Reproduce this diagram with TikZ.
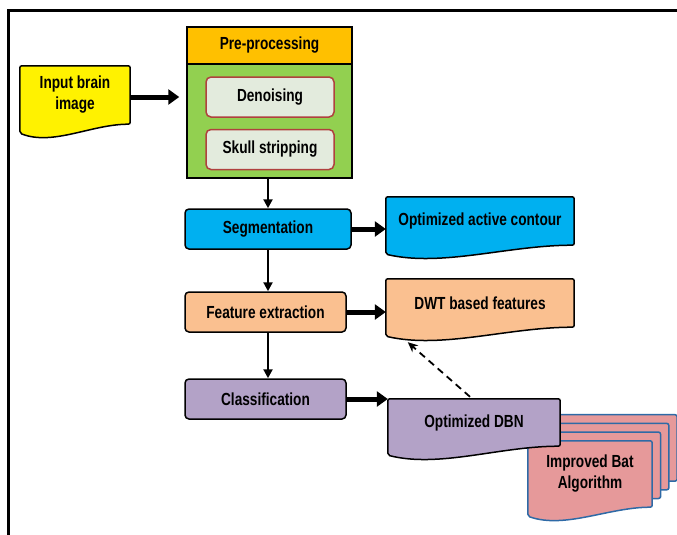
\documentclass[tikz,border=0pt]{standalone}
\usepackage{fontspec}
\setmainfont{Liberation Sans}[FakeStretch=0.78]
\usepackage{tikz}
\usetikzlibrary{arrows.meta,calc,positioning}
\pgfdeclarelayer{background}
\pgfsetlayers{background,main}
\tikzset{>={Triangle[length=9pt,width=9pt]}}
\definecolor{preorange}{HTML}{FFC000}
\definecolor{pregreen}{HTML}{92D050}
\definecolor{stepgray}{HTML}{E3EBDD}
\definecolor{stepred}{HTML}{B0413E}
\definecolor{segblue}{HTML}{00B0F0}
\definecolor{featpeach}{HTML}{FAC090}
\definecolor{clslilac}{HTML}{B3A2C7}
\definecolor{batpink}{HTML}{E6999A}
\definecolor{batblue}{HTML}{2E6AA6}
% document shape with a wavy bottom, drawn round a node
\newcommand{\wavybox}[3][black]{%
  \draw[line width=1.5pt, draw=#1, fill=#3, rounded corners=2pt]
    (#2.south east) -- (#2.north east) -- (#2.north west) -- ([yshift=-9pt]#2.south west)
    .. controls ($(#2.south west)!0.3!(#2.south east)+(0pt,-22pt)$)
    and ($(#2.south west)!0.65!(#2.south east)$) .. (#2.south east) -- cycle;}

\begin{document}
\begin{tikzpicture}[x=1pt,y=-1pt,
              font=\fontsize{17.5}{21}\selectfont\bfseries,
              box/.style={draw, line width=1.5pt, inner sep=0pt, align=center},
              wavy/.style={inner sep=0pt, align=center},
              step box/.style={box, rounded corners=5pt, fill=stepgray, draw=stepred,
                               minimum width=128pt, minimum height=40pt},
              stage/.style={box, rounded corners=4pt, minimum height=40pt},
              flow/.style={line width=2.2pt, ->},
              bigflow/.style={line width=5pt, -{Triangle[length=11pt,width=15pt]}},
             ]
\useasboundingbox (0,0) rectangle (677,535);
\draw[line width=3pt] (677,11) -- (8,11) -- (8,535);

% input and pre-processing
\node[wavy, minimum width=110pt, minimum height=58pt] (input) at (75,95) {Input brain\\image};
\node[box, fill=preorange, minimum width=165pt, minimum height=37pt] (prehead) at (269.5,45.5) {Pre-processing};
\node[box, fill=pregreen, minimum width=165pt, minimum height=114pt] (prebody) at (269.5,121) {};
\node[step box] (denoise) at (270,97) {Denoising};
\node[step box] (skull) at (270,149.5) {Skull stripping};

% main stages
\node[stage, fill=segblue, minimum width=166pt] (seg) at (268,229) {Segmentation};
\node[stage, fill=featpeach, minimum width=161pt] (feat) at (265.5,312) {Feature extraction};
\node[stage, fill=clslilac, minimum width=161pt] (cls) at (265.5,399) {Classification};

% methods
\node[wavy, minimum width=188pt, minimum height=48pt] (contour) at (480,221) {Optimized active contour};
\node[wavy, minimum width=188pt, minimum height=48pt] (dwt) at (480,303) {DWT based features};
\node[wavy, minimum width=124pt, minimum height=66pt] (bat1) at (590,474) {Improved Bat\\Algorithm};
\node[wavy, minimum width=124pt, minimum height=66pt] (bat2) at (598.3,465.3) {};
\node[wavy, minimum width=124pt, minimum height=66pt] (bat3) at (606.6,456.6) {};
\node[wavy, minimum width=124pt, minimum height=66pt] (bat4) at (614.9,447.9) {};
\node[wavy, minimum width=172pt, minimum height=47pt] (dbn) at (474,422.5) {Optimized DBN};

\begin{pgfonlayer}{background}
\wavybox{input}{yellow}
\foreach \s in {bat4,bat3,bat2,bat1}
  \wavybox[batblue]{\s}{batpink};
\wavybox{dbn}{clslilac}
\wavybox{contour}{segblue}
\wavybox{dwt}{featpeach}
\end{pgfonlayer}

% connectors
\draw[bigflow, shorten >=7pt] ([yshift=-2pt]input.east) -- ([yshift=-2pt]input.east -| prebody.west);
\draw[flow] (seg.north |- prebody.south) -- (seg.north);
\draw[flow] (seg.south) -- (seg.south |- feat.north);
\draw[flow] (seg.south |- feat.south) -- (seg.south |- cls.north);
\draw[bigflow] (seg.east) -- (seg.east -| contour.west);
\draw[bigflow] (feat.east) -- (feat.east -| dwt.west);
\draw[bigflow] (cls.east) -- (cls.east -| dbn.west);
\draw[line width=1.8pt, dashed, dash pattern=on 7pt off 5pt, -{Stealth[length=10pt,width=9pt]}]
  ([xshift=-4pt,yshift=2pt]dbn.north) -- ([xshift=22pt,yshift=-15pt]dwt.south west);
\end{tikzpicture}
\end{document}
